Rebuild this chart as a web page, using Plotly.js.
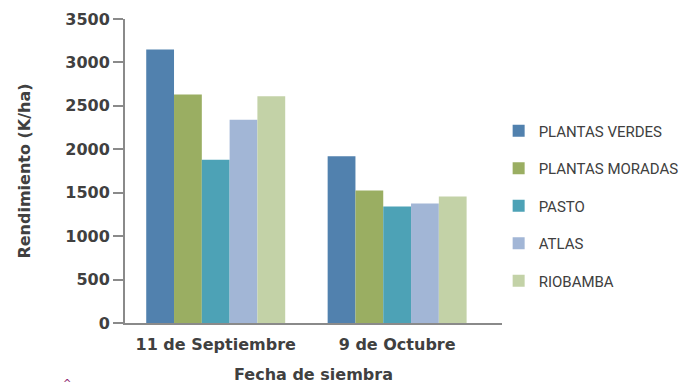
<!DOCTYPE html>
<html>
<head>
<meta charset="utf-8">
<script src="https://cdn.plot.ly/plotly-3.0.1.min.js"></script>
<style>
  html, body { margin: 0; padding: 0; background: #fff; }
  #chart { width: 690px; height: 390px; }
</style>
</head>
<body>
<div id="chart"></div>
<script>
// Sowing dates (x categories)
const fechas = ['11 de Septiembre', '9 de Octubre'];

// Yield per variety (K/ha)
const plantasVerdes  = [3150, 1920];
const plantasMoradas = [2630, 1525];
const pasto          = [1880, 1340];
const atlas          = [2340, 1375];
const riobamba       = [2610, 1455];

const seriesNames  = ['PLANTAS VERDES', 'PLANTAS MORADAS', 'PASTO', 'ATLAS', 'RIOBAMBA'];
const seriesValues = [plantasVerdes, plantasMoradas, pasto, atlas, riobamba];
const seriesColors = ['#5181ae', '#9aae62', '#4da2b6', '#a2b6d6', '#c3d2a7'];

const yTicks = [0, 500, 1000, 1500, 2000, 2500, 3000, 3500];

// one legend group per trace so tracegroupgap spaces the legend rows
const traces = seriesNames.map((name, i) => ({
  type: 'bar',
  name: name,
  x: fechas,
  y: seriesValues[i],
  legendgroup: 'g' + i,
  marker: { color: seriesColors[i], line: { width: 0 } },
  hoverinfo: 'x+y+name'
}));

const axisGray = '#8a8a8a';
const textDark = '#404040';
const boldFont = { family: 'DejaVu Sans, sans-serif', size: 16, color: textDark, weight: 'bold' };

const layout = {
  width: 690,
  height: 390,
  margin: { l: 125, r: 188, t: 19, b: 67, autoexpand: false },
  paper_bgcolor: '#ffffff',
  plot_bgcolor: '#ffffff',
  barmode: 'group',
  bargap: 0.234,
  bargroupgap: 0,
  font: { family: 'DejaVu Sans, sans-serif', color: textDark },
  xaxis: {
    type: 'category',
    range: [-0.5, 1.578],
    showline: true,
    linecolor: axisGray,
    linewidth: 2,
    ticks: '',
    showgrid: false,
    zeroline: false,
    ticklabelstandoff: 6,
    tickfont: boldFont,
    title: {
      text: 'Fecha de siembra',
      font: boldFont,
      standoff: 16
    }
  },
  yaxis: {
    range: [0, 3500],
    tickvals: yTicks,
    ticktext: yTicks.map(String),
    showline: true,
    linecolor: axisGray,
    linewidth: 2,
    ticks: 'outside',
    ticklen: 10,
    tickwidth: 1.5,
    tickcolor: axisGray,
    showgrid: false,
    zeroline: false,
    tickfont: boldFont,
    title: {
      text: 'Rendimiento (K/ha)',
      font: boldFont,
      standoff: 31
    }
  },
  showlegend: true,
  legend: {
    x: 0.9911,
    xanchor: 'left',
    y: 0.385,
    yanchor: 'middle',
    traceorder: 'grouped',
    tracegroupgap: 15,
    itemwidth: 30,
    font: { size: 15, color: textDark, family: 'Roboto, sans-serif' },
    bgcolor: 'rgba(0,0,0,0)'
  },
  annotations: [{
    xref: 'paper', yref: 'paper',
    x: (67 - 125) / 377, y: -0.2,
    xanchor: 'center', yanchor: 'middle',
    text: '^',
    showarrow: false,
    font: { size: 10, color: '#8b1f6e', family: 'DejaVu Sans, sans-serif' }
  }]
};

Plotly.newPlot('chart', traces, layout, { displayModeBar: false });
</script>
</body>
</html>
